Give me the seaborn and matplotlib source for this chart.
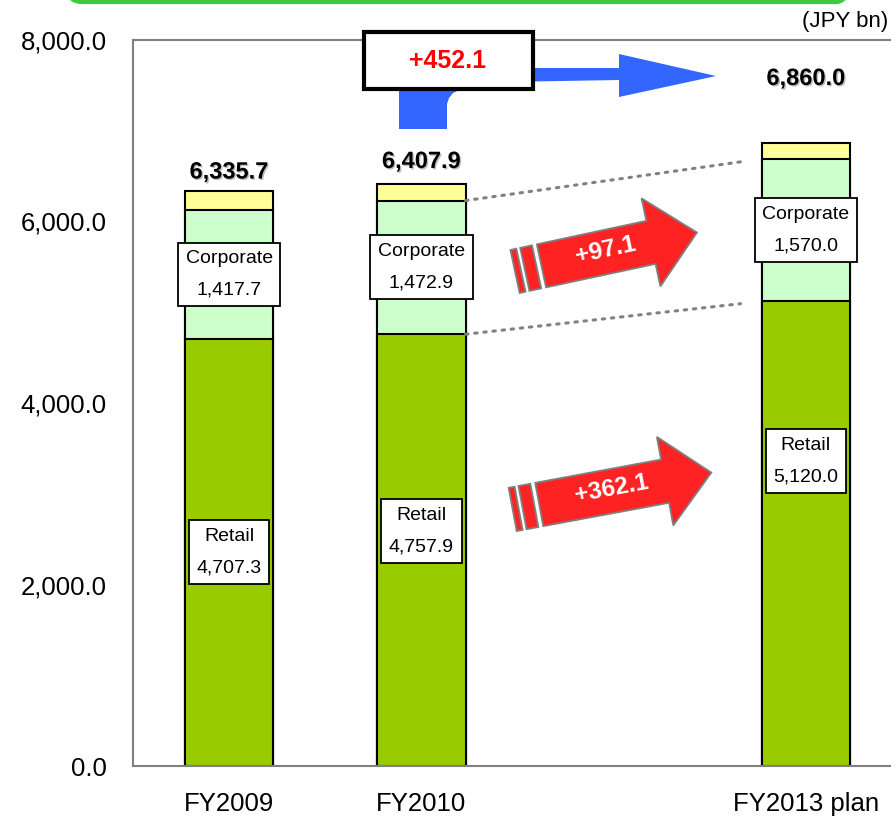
import matplotlib
matplotlib.use('Agg')

import numpy as np
import pandas as pd
import seaborn as sns
import matplotlib.pyplot as plt
import matplotlib.transforms as mtransforms
import matplotlib.patheffects as pe
from matplotlib.patches import Polygon, Rectangle, FancyBboxPatch

# values (JPY bn)
periods = ['FY2009', 'FY2010', 'FY2013 plan']
retail = [4707.3, 4757.9, 5120.0]
corporate = [1417.7, 1472.9, 1570.0]
total = [6335.7, 6407.9, 6860.0]
y_ticks = [0, 2000, 4000, 6000, 8000]
growth_total = '+452.1'
growth_corporate = '+97.1'
growth_retail = '+362.1'

sns.set_style('white')
plt.rcParams['font.family'] = ['Liberation Sans', 'DejaVu Sans']
plt.rcParams['text.color'] = 'black'
plt.rcParams['xtick.labelcolor'] = 'black'
plt.rcParams['ytick.labelcolor'] = 'black'

W, H, DPI = 891, 816, 100
fig = plt.figure(figsize=(W / DPI, H / DPI), dpi=DPI)
ax = fig.add_axes([133 / W, 50 / H, 769 / W, 726 / H])
# pixel coords, origin top-left
px = mtransforms.Affine2D().scale(1, -1).translate(0, H).scale(1 / DPI) + fig.dpi_scale_trans

df = pd.DataFrame({'period': periods, 'retail': retail,
                   'corporate': corporate, 'total': total})
df['retail_corp'] = df['retail'] + df['corporate']
order = ['FY2009', 'FY2010', ' ', 'FY2013 plan']
pos = [order.index(p) for p in periods]
bw = 0.46

bar_kw = dict(data=df, x='period', order=order, width=bw, saturation=1,
              edgecolor='black', linewidth=1.5, ax=ax)
sns.barplot(y='total', color='#FFFF99', **bar_kw)
sns.barplot(y='retail_corp', color='#CCFFCC', **bar_kw)
sns.barplot(y='retail', color='#99CC00', **bar_kw)

ax.set_xlim(-0.5, 3.5)
ax.set_ylim(0, 8000)
ax.set_xlabel('')
ax.set_ylabel('')
ax.set_yticks(y_ticks)
ax.set_yticklabels([f'{v:,.1f}' for v in y_ticks])
ax.set_xticks([0.5, 1.5, 2.5])
ax.set_xticklabels(['', '', ''])
ax.set_xticks(pos, minor=True)
ax.set_xticklabels(periods, minor=True)
ax.tick_params(axis='y', length=0, pad=19, labelsize=18.5)
ax.tick_params(axis='x', which='major', direction='in', length=7, color='#808080', width=1.2)
ax.tick_params(axis='x', which='minor', length=0, pad=19, labelsize=18.5)
for s in ['left', 'top', 'bottom']:
    ax.spines[s].set_color('#808080')
    ax.spines[s].set_linewidth(1.5)
ax.spines['right'].set_visible(False)

# segment labels
box = dict(boxstyle='square,pad=0.4', fc='white', ec='black', lw=1.3)
retail_shift = [0, 210, 800]
for i, p in enumerate(pos):
    ax.text(p, retail[i] / 2 + retail_shift[i], f'Retail\n{retail[i]:,.1f}',
            ha='center', va='center', fontsize=14, linespacing=2.1, bbox=box, zorder=5)
    ax.text(p, retail[i] + corporate[i] / 2, f'Corporate\n{corporate[i]:,.1f}',
            ha='center', va='center', fontsize=14, linespacing=2.1, bbox=box, zorder=5)

# totals
total_off = [19, 23, 65]
for i, p in enumerate(pos):
    ax.annotate(f'{total[i]:,.1f}', xy=(p, total[i]), xytext=(0, total_off[i]),
                textcoords='offset pixels', ha='center', va='center',
                fontsize=17, fontweight='bold',
                path_effects=[pe.SimplePatchShadow(offset=(1, -1), shadow_rgbFace='gray', alpha=0.5),
                              pe.Normal()])

# dotted guide lines FY2010 -> FY2013 plan
x0, x1, xe = pos[1] + bw / 2, pos[2] - bw / 2, 2.66
for a, b in [(df['retail_corp'][1], df['retail_corp'][2]), (retail[1], retail[2])]:
    ye = a + (b - a) * (xe - x0) / (x1 - x0)
    ax.plot([x0, xe], [a, ye], color='#808080', lw=2.2,
            linestyle=(0, (0.8, 2.2)), dash_capstyle='round', zorder=4)


def to_px(cx, cy, ang, pts):
    c, s = np.cos(np.radians(ang)), np.sin(np.radians(ang))
    return [(cx + u * c - v * s, cy - (u * s + v * c)) for u, v in pts]


def red_arrow(cx, cy, ang, half, label):
    main = [(-half + 27, -22), (half - 47, -22), (half - 47, -45), (half, 0),
            (half - 47, 45), (half - 47, 22), (-half + 27, 22)]
    s1 = [(-half, -22), (-half + 6, -22), (-half + 6, 22), (-half, 22)]
    s2 = [(-half + 10, -22), (-half + 22, -22), (-half + 22, 22), (-half + 10, 22)]
    for shp in [main, s1, s2]:
        fig.add_artist(Polygon(to_px(cx, cy, ang, shp), closed=True, transform=px,
                               fc='#FF2222', ec='#7F7F7F', lw=1.3))
    fig.text(cx, cy - 2, label, transform=px, rotation=ang, rotation_mode='anchor',
             ha='center', va='center', color='white', fontsize=17.5, fontweight='bold')


red_arrow(606, 252, 12.1, 93, growth_corporate)
red_arrow(612, 491, 10.5, 101, growth_retail)

# blue bent arrow with total growth box
blue = [(399, 129), (399, 72), (415, 68), (619, 68), (619, 54), (716, 76), (619, 97),
        (619, 80), (533, 81.5), (478, 86), (462, 89), (453, 93), (449, 98), (447, 104), (447, 129)]
fig.add_artist(Polygon(blue, closed=True, transform=px, fc='#3366FF', ec='none'))
fig.add_artist(Rectangle((364, 32), 169, 57, transform=px, fc='white', ec='black', lw=3))
fig.text(448, 61, growth_total, transform=px, ha='center', va='center',
         color='#FF0000', fontsize=18, fontweight='bold')

# green frame remnant at top and unit label
fig.add_artist(FancyBboxPatch((68, -40), 782, 42, boxstyle='round,pad=0,rounding_size=14',
                              transform=px, fc='none', ec='#3DCB3D', lw=3))
fig.text(888, 22, '(JPY bn)', transform=px, ha='right', va='center', fontsize=16)

fig.savefig('out.png', dpi=DPI)
